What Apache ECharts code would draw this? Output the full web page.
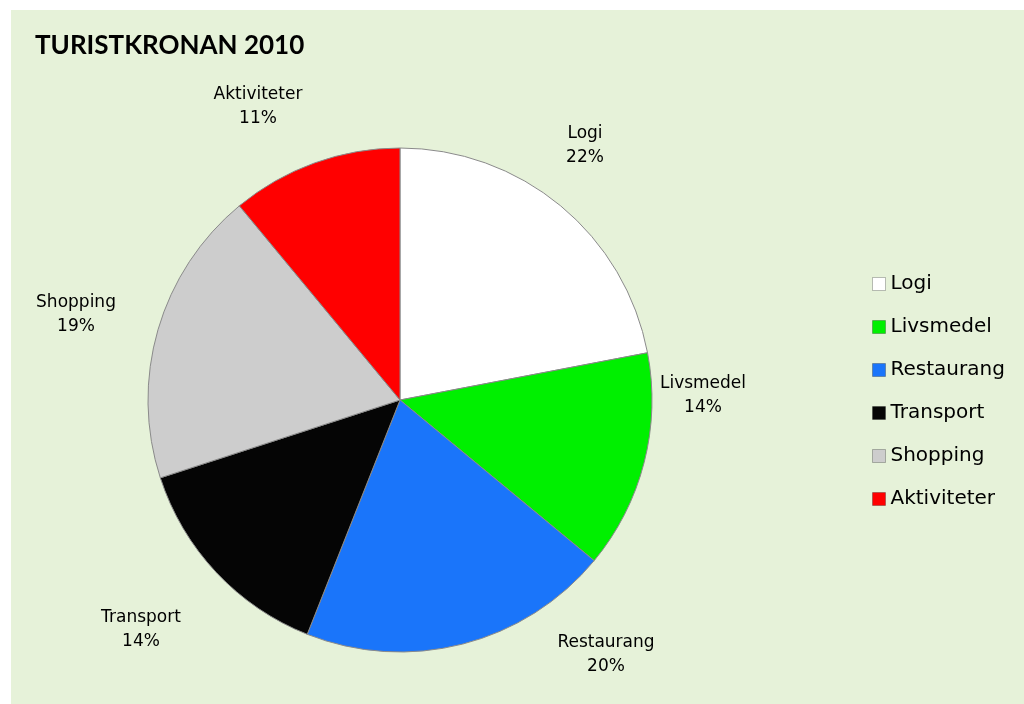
<!DOCTYPE html>
<html><head><meta charset="utf-8">
<script src="https://cdn.jsdelivr.net/npm/echarts@6/dist/echarts.min.js"></script>
<style>html,body{margin:0;padding:0;background:#fff}#c{width:1024px;height:704px}</style>
</head><body><div id="c"></div>
<script>
const title = 'TURISTKRONAN 2010';
const categories = ['Logi', 'Livsmedel', 'Restaurang', 'Transport', 'Shopping', 'Aktiviteter'];
const values = [22, 14, 20, 14, 19, 11];
const colors = ['#FFFFFF', '#00F000', '#1A75FA', '#050505', '#CDCDCD', '#FF0000'];
const labelPos = [[585,146],[703,396],[606,655],[141,630],[76,315],[258,107]];

const chart = echarts.init(document.getElementById('c'), null, {renderer:'canvas'});
chart.setOption({
  animation:false,
  backgroundColor:'#ffffff',
  graphic:[{type:'rect', left:11, top:10, shape:{width:1013, height:694}, style:{fill:'#E6F2D9'}, z:-10}],
  title:{text:title, left:30, top:28, textStyle:{fontFamily:'Lato', fontWeight:'bold', fontSize:26, color:'#000'}},
  legend:{
    orient:'vertical', left:867, top:269, icon:'rect', itemWidth:13, itemHeight:13, itemGap:23,
    itemStyle:{borderWidth:1, borderColor:'rgba(0,0,0,0.25)'},
    textStyle:{fontFamily:'DejaVu Sans', fontSize:20, lineHeight:20, color:'#000'},
    data:categories
  },
  series:[{
    type:'pie', center:[400,400], radius:252, startAngle:90, clockwise:true,
    itemStyle:{borderColor:'#8a8a8a', borderWidth:1},
    label:{show:true, position:'outside', formatter:p=>p.name+'\n'+Math.round(p.percent)+'%',
      fontFamily:'DejaVu Sans', fontSize:17, lineHeight:24, color:'#000', align:'center'},
    labelLine:{show:false},
    labelLayout:function(params){
      const p = labelPos[params.dataIndex];
      return {x:p[0], y:p[1], align:'center', verticalAlign:'middle'};
    },
    data:categories.map((c,i)=>({name:c, value:values[i], itemStyle:{color:colors[i]}}))
  }]
});
</script></body></html>
